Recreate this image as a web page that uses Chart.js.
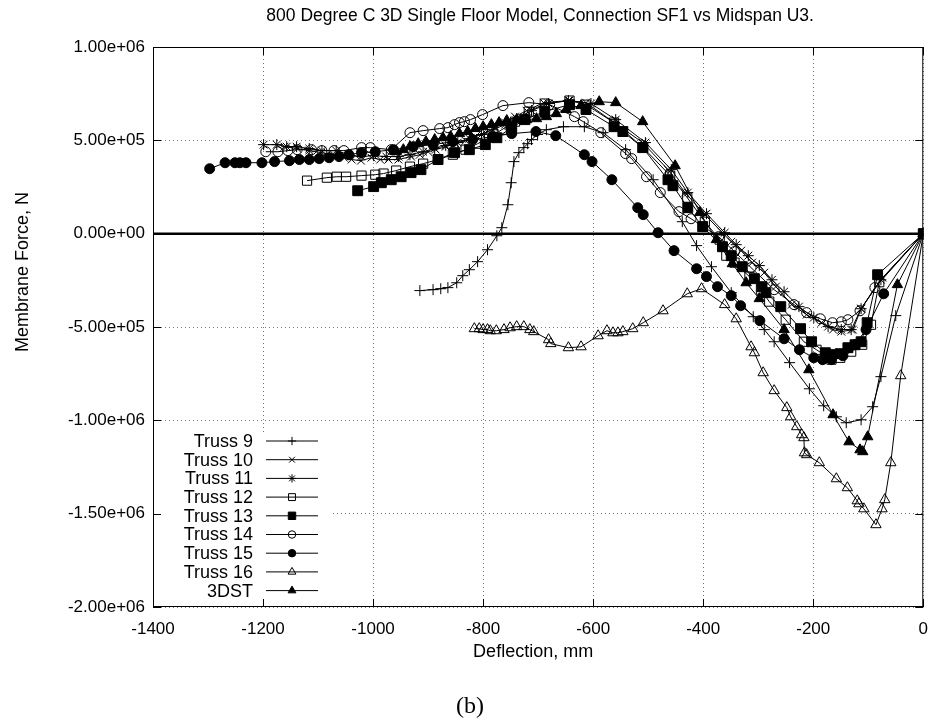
<!DOCTYPE html>
<html>
<head>
<meta charset="utf-8">
<title>Membrane force vs deflection</title>
<script src="https://cdn.jsdelivr.net/npm/chart.js@4.4.0/dist/chart.umd.min.js"></script>
<style>
  html, body { margin: 0; padding: 0; background: #fff; }
  canvas { display: block; }
</style>
</head>
<body>
<canvas id="forceChart" width="940" height="722"></canvas>
<script>
// ==========================
// Data (deflection in mm, force in kN -> plotted in N)
// ==========================

const deflectionTicks = [-1400, -1200, -1000, -800, -600, -400, -200, 0];
const forceTicks = [1000000, 500000, 0, -500000, -1000000, -1500000, -2000000];

const truss9X = [-915, -891, -877, -864, -848, -837, -825, -810, -792, -775, -766, -755, -749, -744, -735, -726, -719, -712, -701, -685, -654, -616, -582, -541, -491, -438, -412, -385, -349, -309, -289, -271, -243, -207, -181, -158, -140, -113, -92, -77, -50, 0];
const truss9Y = [-305, -300, -295, -289, -263, -225, -193, -150, -86, -11, 32, 155, 273, 386, 434, 461, 482, 504, 531, 557, 573, 573, 541, 450, 289, 64, -64, -177, -316, -445, -514, -579, -691, -831, -922, -981, -1013, -997, -927, -766, -439, 0];

const truss10X = [-1161, -1138, -1116, -1094, -1071, -1053, -1039, -1022, -1003, -987, -972, -954, -931, -915, -900, -886, -868, -850, -832, -814, -796, -778, -760, -742, -721, -690, -643, -613, -564, -510, -464, -433, -397, -367, -349, -331, -311, -289, -268, -239, -212, -185, -164, -149, -128, -113, -74, 0];
const truss10Y = [466, 456, 445, 434, 423, 407, 397, 391, 407, 397, 397, 397, 413, 423, 439, 450, 466, 482, 498, 520, 541, 568, 595, 627, 659, 702, 713, 702, 600, 488, 343, 220, 102, 11, -43, -91, -155, -209, -284, -380, -434, -477, -514, -525, -514, -402, -236, 0];

const truss11X = [-1199, -1175, -1157, -1139, -1116, -1093, -1067, -1044, -1022, -999, -976, -954, -933, -909, -888, -868, -846, -825, -803, -782, -760, -739, -712, -681, -645, -604, -559, -505, -458, -428, -394, -361, -340, -318, -298, -275, -253, -226, -199, -173, -149, -131, -113, -77, 0];
const truss11Y = [477, 477, 466, 466, 456, 445, 445, 423, 413, 418, 413, 413, 423, 439, 456, 472, 488, 509, 531, 557, 584, 616, 659, 697, 713, 697, 611, 488, 343, 220, 107, 5, -59, -118, -171, -247, -311, -391, -450, -498, -514, -514, -402, -247, 0];

const truss12X = [-1120, -1084, -1066, -1049, -1021, -996, -981, -958, -933, -909, -882, -855, -832, -810, -789, -766, -742, -717, -688, -643, -613, -562, -509, -460, -429, -397, -370, -358, -343, -316, -295, -280, -250, -217, -194, -167, -151, -131, -111, -95, -80, 0];
const truss12Y = [284, 300, 305, 305, 311, 316, 322, 338, 359, 375, 397, 423, 450, 482, 514, 557, 600, 654, 697, 713, 691, 595, 461, 311, 193, 64, -32, -118, -155, -230, -300, -364, -461, -579, -622, -675, -665, -632, -595, -488, -260, 0];

const truss13X = [-1028, -999, -985, -967, -949, -931, -913, -882, -852, -825, -796, -775, -748, -724, -688, -643, -613, -562, -546, -510, -464, -455, -428, -401, -365, -349, -329, -307, -293, -286, -259, -223, -203, -178, -167, -151, -137, -124, -113, -102, -83, 0];
const truss13Y = [230, 252, 273, 289, 305, 327, 343, 397, 434, 450, 477, 514, 568, 611, 654, 691, 665, 573, 547, 461, 289, 257, 139, 38, -70, -118, -177, -241, -284, -316, -391, -509, -579, -638, -648, -643, -611, -595, -579, -477, -220, 0];

const truss14X = [-1195, -1173, -1155, -1138, -1112, -1093, -1071, -1053, -1021, -1005, -967, -933, -909, -879, -864, -852, -843, -834, -823, -801, -764, -717, -679, -634, -618, -586, -541, -530, -503, -478, -444, -422, -372, -343, -313, -271, -235, -212, -187, -165, -149, -137, -115, -88, 0];
const truss14Y = [439, 439, 445, 450, 450, 445, 445, 445, 461, 461, 450, 541, 552, 563, 568, 584, 595, 600, 611, 638, 686, 702, 691, 627, 600, 541, 429, 402, 305, 220, 118, 80, -16, -96, -182, -300, -380, -423, -456, -477, -472, -461, -413, -289, 0];

const truss15X = [-1297, -1269, -1251, -1242, -1231, -1202, -1179, -1152, -1134, -1116, -1098, -1080, -1062, -1044, -1021, -996, -963, -927, -891, -855, -819, -783, -748, -704, -668, -616, -602, -566, -519, -509, -482, -453, -412, -394, -374, -349, -332, -297, -253, -225, -199, -183, -167, -146, -124, -104, -72, 0];
const truss15Y = [348, 380, 380, 380, 380, 380, 386, 391, 397, 397, 402, 407, 413, 423, 434, 439, 450, 466, 477, 493, 504, 520, 536, 547, 525, 423, 386, 289, 139, 102, 5, -91, -188, -230, -284, -332, -386, -466, -563, -622, -665, -675, -675, -654, -595, -514, -322, 0];

const truss16X = [-816, -807, -800, -792, -787, -776, -762, -751, -739, -726, -715, -708, -681, -677, -645, -622, -591, -575, -564, -555, -546, -528, -509, -473, -429, -403, -361, -340, -313, -307, -291, -271, -248, -241, -230, -221, -217, -216, -212, -189, -158, -138, -120, -117, -108, -86, -75, -70, -59, -41, 0];
const truss16Y = [-509, -509, -514, -514, -520, -520, -514, -504, -498, -498, -514, -525, -568, -589, -611, -606, -547, -520, -531, -531, -525, -509, -477, -413, -322, -295, -380, -456, -606, -638, -745, -841, -932, -981, -1034, -1077, -1093, -1174, -1184, -1227, -1313, -1361, -1431, -1447, -1474, -1559, -1474, -1425, -1227, -761, 0];

const dstX = [-958, -945, -933, -918, -904, -888, -873, -859, -843, -828, -814, -800, -785, -771, -757, -739, -721, -703, -685, -667, -649, -622, -589, -559, -510, -451, -406, -376, -347, -322, -298, -253, -208, -164, -135, -115, -110, -101, -47, 0];
const dstY = [439, 450, 466, 482, 493, 504, 514, 520, 536, 547, 563, 573, 584, 595, 606, 611, 611, 616, 627, 643, 665, 686, 707, 702, 600, 364, 113, -32, -161, -263, -348, -514, -729, -970, -1115, -1158, -1168, -1088, -273, 0];

// ==========================
// Series setup
// ==========================

const series = [
    { label: "Truss 9",  xs: truss9X,  ys: truss9Y,  style: "cross",    radius: 5.5, filled: false },
    { label: "Truss 10", xs: truss10X, ys: truss10Y, style: "crossRot", radius: 5.5, filled: false },
    { label: "Truss 11", xs: truss11X, ys: truss11Y, style: "star",     radius: 5.5, filled: false },
    { label: "Truss 12", xs: truss12X, ys: truss12Y, style: "rect",     radius: 6.5, filled: false },
    { label: "Truss 13", xs: truss13X, ys: truss13Y, style: "rect",     radius: 7,   filled: true },
    { label: "Truss 14", xs: truss14X, ys: truss14Y, style: "circle",   radius: 5,   filled: false },
    { label: "Truss 15", xs: truss15X, ys: truss15Y, style: "circle",   radius: 5,   filled: true },
    { label: "Truss 16", xs: truss16X, ys: truss16Y, style: "triangle", radius: 6,   filled: false },
    { label: "3DST",     xs: dstX,     ys: dstY,     style: "triangle", radius: 6,   filled: true }
];

const datasets = series.map(s => ({
    label: s.label,
    data: s.xs.map((x, i) => ({ x: x, y: s.ys[i] * 1000 })),
    showLine: true,
    borderColor: "#000",
    borderWidth: 1,
    pointStyle: s.style,
    pointRadius: s.radius,
    pointBorderWidth: 1,
    pointBorderColor: "#000",
    pointBackgroundColor: s.filled ? "#000" : "rgba(0,0,0,0)",
    tension: 0
}));

const SANS = "'Liberation Sans', Arial, Helvetica, sans-serif";

// gnuplot style exponent labels: 1.00e+06
function expLabel(v) {
    const parts = Number(v).toExponential(2).split("e");
    const sign = parts[1][0];
    let digits = parts[1].slice(1);
    if (digits.length < 2) digits = "0" + digits;
    return parts[0] + "e" + sign + digits;
}

// ==========================
// Frame, zero axis, legend and captions
// ==========================

const framePlugin = {
    id: "framePlugin",

    beforeDatasetsDraw(chart) {
        const { ctx, chartArea: a, scales } = chart;
        ctx.save();

        // blank panel behind the key
        ctx.fillStyle = "#fff";
        ctx.fillRect(a.left + 1, 432, 177, a.bottom - 433);

        // thick zero line
        const y0 = scales.y.getPixelForValue(0);
        ctx.strokeStyle = "#000";
        ctx.lineWidth = 2.5;
        ctx.beginPath();
        ctx.moveTo(a.left, y0);
        ctx.lineTo(a.right, y0);
        ctx.stroke();

        ctx.restore();
    },

    afterDraw(chart) {
        const { ctx, chartArea: a, scales } = chart;
        ctx.save();

        // key
        ctx.font = "18px " + SANS;
        ctx.textAlign = "right";
        ctx.textBaseline = "middle";
        series.forEach((s, i) => {
            const ry = 441 + i * 18.7;
            ctx.fillStyle = "#000";
            ctx.fillText(s.label, 253, ry + 1);

            ctx.strokeStyle = "#000";
            ctx.lineWidth = 1;
            ctx.beginPath();
            ctx.moveTo(266, ry);
            ctx.lineTo(318, ry);
            ctx.stroke();

            ctx.fillStyle = s.filled ? "#000" : "rgba(0,0,0,0)";
            Chart.helpers.drawPoint(ctx, {
                pointStyle: s.style,
                radius: s.radius * 0.75,
                rotation: 0,
                borderWidth: 1
            }, 292, ry);
        });

        // border box
        ctx.strokeStyle = "#000";
        ctx.lineWidth = 1;
        ctx.strokeRect(a.left + 0.5, a.top + 0.5, a.right - a.left - 1, a.bottom - a.top - 1);

        // inward ticks on all four sides
        const tick = 8;
        ctx.beginPath();
        deflectionTicks.forEach(v => {
            const px = Math.round(scales.x.getPixelForValue(v)) + 0.5;
            ctx.moveTo(px, a.bottom);
            ctx.lineTo(px, a.bottom - tick);
            ctx.moveTo(px, a.top);
            ctx.lineTo(px, a.top + tick);
        });
        forceTicks.forEach(v => {
            const py = Math.round(scales.y.getPixelForValue(v)) + 0.5;
            ctx.moveTo(a.left, py);
            ctx.lineTo(a.left + tick, py);
            ctx.moveTo(a.right, py);
            ctx.lineTo(a.right - tick, py);
        });
        ctx.stroke();

        // title and axis captions
        ctx.fillStyle = "#000";
        ctx.textAlign = "center";
        ctx.textBaseline = "middle";
        ctx.font = "17.5px " + SANS;
        ctx.fillText("800 Degree C 3D Single Floor Model, Connection SF1 vs Midspan U3.", (a.left + a.right) / 2 + 2, 16);

        ctx.font = "18px " + SANS;
        ctx.fillText("Deflection, mm", (a.left + a.right) / 2 - 5, 652);

        ctx.save();
        ctx.translate(23, 272);
        ctx.rotate(-Math.PI / 2);
        ctx.fillText("Membrane Force, N", 0, 0);
        ctx.restore();

        ctx.font = "24px 'Liberation Serif', 'DejaVu Serif', serif";
        ctx.fillText("(b)", 470, 707);

        ctx.restore();
    }
};

// ==========================
// Chart
// ==========================

new Chart(document.getElementById("forceChart"), {
    type: "scatter",
    data: { datasets: datasets },
    options: {
        responsive: false,
        animation: false,
        layout: { padding: { top: 47, right: 9, left: 0, bottom: 0 } },
        plugins: {
            legend: { display: false },
            title: { display: false },
            tooltip: { enabled: false }
        },
        scales: {
            x: {
                type: "linear",
                min: -1400,
                max: 0,
                afterBuildTicks: scale => {
                    scale.ticks = deflectionTicks.map(v => ({ value: v }));
                },
                afterFit: scale => { scale.height = 115; },
                ticks: {
                    color: "#000",
                    padding: 12,
                    maxRotation: 0,
                    font: { family: SANS, size: 17 },
                    callback: v => String(v)
                },
                grid: { color: "#777", lineWidth: 1, drawTicks: false },
                border: { display: false, dash: [1, 3] }
            },
            y: {
                type: "linear",
                min: -2000000,
                max: 1000000,
                afterBuildTicks: scale => {
                    scale.ticks = forceTicks.map(v => ({ value: v }));
                },
                afterFit: scale => { scale.width = 153; },
                ticks: {
                    color: "#000",
                    padding: 8,
                    font: { family: SANS, size: 17 },
                    callback: v => expLabel(v)
                },
                grid: { color: "#777", lineWidth: 1, drawTicks: false },
                border: { display: false, dash: [1, 3] }
            }
        }
    },
    plugins: [framePlugin]
});
</script>
</body>
</html>
